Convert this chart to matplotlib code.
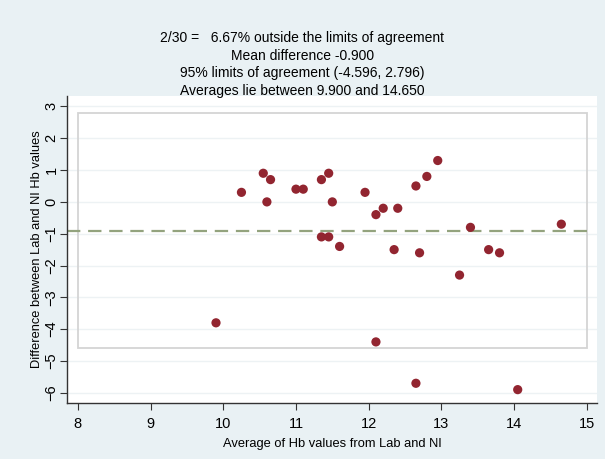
import numpy as np
import matplotlib.pyplot as plt
from matplotlib.patches import Rectangle

plt.rcParams['font.family'] = ['Liberation Sans', 'DejaVu Sans']

# ---------- data ----------
avg_hb = [9.90, 10.25, 10.55, 10.60, 10.65, 11.00, 11.10, 11.35, 11.45, 11.50,
          11.35, 11.45, 11.60, 11.95, 12.10, 12.20, 12.40, 12.35, 12.10, 12.65,
          12.80, 12.95, 12.70, 12.65, 13.25, 13.40, 13.65, 13.80, 14.05, 14.65]
diff_hb = [-3.8, 0.3, 0.9, 0.0, 0.7, 0.4, 0.4, 0.7, 0.9, 0.0,
           -1.1, -1.1, -1.4, 0.3, -0.4, -0.2, -0.2, -1.5, -4.4, 0.5,
           0.8, 1.3, -1.6, -5.7, -2.3, -0.8, -1.5, -1.6, -5.9, -0.7]
mean_diff = -0.900
loa = (-4.596, 2.796)
x_ticks = [8, 9, 10, 11, 12, 13, 14, 15]
y_ticks = [-6, -5, -4, -3, -2, -1, 0, 1, 2, 3]

title_lines = [
    "2/30 =   6.67% outside the limits of agreement",
    "Mean difference -0.900",
    "95% limits of agreement (-4.596, 2.796)",
    "Averages lie between 9.900 and 14.650",
]

BG = "#e9f1f4"

fig = plt.figure(figsize=(6.05, 4.59), dpi=100, facecolor=BG)
ax = fig.add_axes([0.1107, 0.122, 0.876, 0.669])
ax.set_facecolor("white")

# light gridlines
for yv in y_ticks:
    ax.axhline(yv, color="#edf2f4", lw=1.0, zorder=0)

# limits of agreement box
ax.add_patch(Rectangle((x_ticks[0], loa[0]), x_ticks[-1] - x_ticks[0], loa[1] - loa[0],
                       fill=False, edgecolor="#d4d4d4", lw=1.3, zorder=1))

# mean difference line
ax.axhline(mean_diff, xmin=0.0, xmax=0.986, color="#93a37e", lw=1.6,
           dashes=(6, 3.5), zorder=2)

ax.scatter(avg_hb, diff_hb, s=44, color="#922530", edgecolors="none", zorder=3)

ax.set_xlim(7.85, 15.14)
ax.set_ylim(-6.32, 3.33)
ax.set_xticks(x_ticks)
ax.set_yticks(y_ticks)
ax.tick_params(axis="x", labelsize=10.5, length=5, color="#333333", pad=5)
ax.tick_params(axis="y", labelsize=10.5, length=5, color="#333333", pad=1,
               labelrotation=90)
for lbl in ax.get_yticklabels():
    lbl.set_va("center")

for side in ("top", "right"):
    ax.spines[side].set_visible(False)
for side in ("left", "bottom"):
    ax.spines[side].set_color("#333333")
    ax.spines[side].set_linewidth(1.0)

ax.set_xlabel("Average of Hb values from Lab and NI", fontsize=9.3, labelpad=5)
ax.set_ylabel("Difference between Lab and NI Hb values", fontsize=9.3)
ax.yaxis.set_label_coords(-0.045, 0.5)

for i, line in enumerate(title_lines):
    fig.text(0.50, 1 - (38 + 17.7 * i) / 459, line, ha="center", va="center",
             fontsize=10)

fig.savefig("out.png", dpi=100, facecolor=BG)
